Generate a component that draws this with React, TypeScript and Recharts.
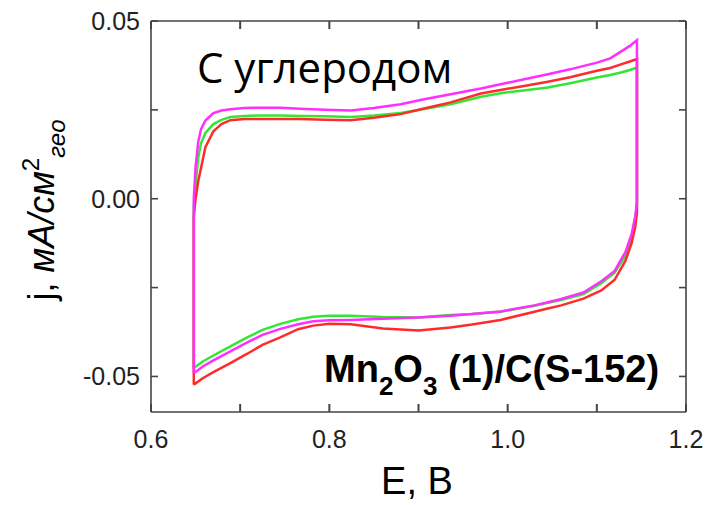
import { LineChart, Line, XAxis, YAxis } from 'recharts'

// potential grid, forward (anodic) sweep left -> right
const topE = [0.648, 0.648, 0.65, 0.653, 0.656, 0.661, 0.67, 0.679, 0.689, 0.705, 0.72, 0.745, 0.767, 0.795, 0.824, 0.85, 0.88, 0.905, 0.936, 0.97, 0.992, 1.02, 1.045, 1.07, 1.1, 1.115, 1.127, 1.137, 1.145]
// reverse (cathodic) sweep right -> left
const bottomE = [1.145, 1.143, 1.139, 1.132, 1.12, 1.105, 1.085, 1.06, 1.045, 1.03, 0.992, 0.96, 0.936, 0.9, 0.86, 0.824, 0.8, 0.782, 0.765, 0.745, 0.725, 0.708, 0.69, 0.67, 0.658, 0.648]

const greenTop = [-0.0476, -0.002, 0.004, 0.0116, 0.0155, 0.0185, 0.021, 0.0222, 0.023, 0.0233, 0.0234, 0.0234, 0.0233, 0.0232, 0.023, 0.0234, 0.0241, 0.0252, 0.0266, 0.0287, 0.0297, 0.0305, 0.0313, 0.0325, 0.0341, 0.0348, 0.0355, 0.0362, 0.0369]
const greenBottom = [-0.002, -0.006, -0.011, -0.016, -0.0208, -0.0238, -0.0268, -0.0285, -0.0293, -0.0301, -0.0318, -0.0324, -0.0327, -0.0334, -0.0333, -0.0329, -0.0329, -0.0332, -0.0339, -0.0352, -0.0369, -0.039, -0.0414, -0.0441, -0.0458, -0.0476]

const redTop = [-0.0523, -0.005, 0.0, 0.005, 0.0085, 0.0145, 0.019, 0.021, 0.0221, 0.0224, 0.0224, 0.0224, 0.0224, 0.0222, 0.0221, 0.0228, 0.0238, 0.0253, 0.0271, 0.0296, 0.0306, 0.0318, 0.0329, 0.0342, 0.036, 0.0368, 0.0378, 0.0386, 0.0393]
const redBottom = [-0.004, -0.008, -0.0125, -0.0175, -0.0228, -0.0258, -0.0281, -0.03, -0.0309, -0.0318, -0.0341, -0.0354, -0.0362, -0.0371, -0.0365, -0.0353, -0.0352, -0.0357, -0.0367, -0.039, -0.0411, -0.0436, -0.0461, -0.0488, -0.0505, -0.0523]

const magentaTop = [-0.0491, 0.0, 0.009, 0.016, 0.0195, 0.022, 0.0241, 0.0248, 0.0252, 0.0255, 0.0256, 0.0256, 0.0253, 0.025, 0.0248, 0.0255, 0.0266, 0.0279, 0.0294, 0.031, 0.0322, 0.0337, 0.035, 0.0364, 0.0383, 0.0395, 0.0414, 0.043, 0.0446]
const magentaBottom = [-0.001, -0.005, -0.01, -0.015, -0.0203, -0.0232, -0.0264, -0.0282, -0.0291, -0.03, -0.0317, -0.0324, -0.0329, -0.0334, -0.0338, -0.0341, -0.0342, -0.0345, -0.0353, -0.0366, -0.0383, -0.0404, -0.0428, -0.0455, -0.0472, -0.0491]

const xTicks = [0.6, 0.7, 0.8, 0.9, 1.0, 1.1, 1.2]
const xLabelled = [0.6, 0.8, 1.0, 1.2]
const yTicks = [-0.05, 0, 0.05]
const yMinorTicks = [-0.05, -0.025, 0, 0.025, 0.05]

const loop = (top: number[], bottom: number[]) => [
  ...topE.map((x, i) => ({ x, y: top[i] })),
  ...bottomE.map((x, i) => ({ x, y: bottom[i] })),
]

const series = [
  { name: 'green', color: '#33e633', data: loop(greenTop, greenBottom) },
  { name: 'red', color: '#ff2b2b', data: loop(redTop, redBottom) },
  { name: 'magenta', color: '#ff2eff', data: loop(magentaTop, magentaBottom) },
]

const FONT = '"Liberation Sans", Arial, sans-serif'
const FRAME = '#444'
const PLOT_TOP = 21

// x tick: inward marks on the bottom and top frame, label only on the major values
const XTick = (props: any) => {
  const v = Number(props.payload.value)
  const bottom = props.y - 8
  return (
    <g>
      <line x1={props.x} x2={props.x} y1={bottom} y2={bottom - 8} stroke={FRAME} strokeWidth={2} />
      <line x1={props.x} x2={props.x} y1={PLOT_TOP} y2={PLOT_TOP + 8} stroke={FRAME} strokeWidth={2} />
      {xLabelled.some((t) => Math.abs(t - v) < 1e-6) && (
        <text x={props.x} y={props.y + 28} textAnchor="middle" fontSize={25} fontFamily={FONT} fill="#222">
          {v.toFixed(1)}
        </text>
      )}
    </g>
  )
}

const YTick = (props: any) => (
  <text x={props.x - 3} y={props.y + 9} textAnchor="end" fontSize={25} fontFamily={FONT} fill="#222">
    {Number(props.payload.value).toFixed(2)}
  </text>
)

const NoLabel = () => <g />

export default function App() {
  const domX: [number, number] = [0.6, 1.2]
  const domY: [number, number] = [-0.06, 0.05]
  const frameLine = { stroke: FRAME, strokeWidth: 1.6 }
  return (
    <div style={{ position: 'absolute', left: 0, top: 0, width: 720, height: 505, background: '#fff' }}>
      <LineChart width={720} height={505} margin={{ top: PLOT_TOP, right: 34, left: 0, bottom: 0 }}>
        <XAxis xAxisId="main" dataKey="x" type="number" domain={domX} allowDataOverflow ticks={xTicks}
          interval={0} height={93} axisLine={false} tickLine={false} tick={XTick} />
        <XAxis xAxisId="bottomFrame" type="number" domain={domX} allowDataOverflow orientation="bottom" mirror
          ticks={xTicks} interval={0} tick={NoLabel} tickSize={8} tickLine={frameLine} axisLine={frameLine} />
        <XAxis xAxisId="topFrame" type="number" domain={domX} allowDataOverflow orientation="top" mirror
          ticks={xTicks} interval={0} tick={NoLabel} tickSize={8} tickLine={frameLine} axisLine={frameLine} />
        <YAxis yAxisId="main" type="number" domain={domY} allowDataOverflow ticks={yTicks}
          interval={0} width={151} axisLine={false} tickLine={false} tick={YTick} />
        <YAxis yAxisId="leftTicks" type="number" domain={domY} allowDataOverflow ticks={yMinorTicks}
          interval={0} orientation="left" mirror tick={NoLabel} tickSize={7} axisLine={frameLine} tickLine={frameLine} />
        <YAxis yAxisId="rightTicks" type="number" domain={domY} allowDataOverflow ticks={yMinorTicks}
          interval={0} orientation="right" mirror tick={NoLabel} tickSize={7} axisLine={frameLine} tickLine={frameLine} />
        {series.map((s) => (
          <Line key={s.name} xAxisId="main" yAxisId="main" data={s.data} dataKey="y" type="linear"
            stroke={s.color} strokeWidth={2.5} dot={false} isAnimationActive={false} />
        ))}
        <text x={197} y={83} fontSize={42} fontFamily='"Open Sans", sans-serif' fill="#000">С углеродом</text>
        <text x={324} y={382} fontSize={38} fontWeight="bold" fontFamily={FONT} fill="#000">
          Mn<tspan fontSize={26} dy={13}>2</tspan><tspan dy={-13}>O</tspan><tspan fontSize={26} dy={13}>3</tspan>
          <tspan dy={-13}> (1)/C(S-152)</tspan>
        </text>
        <text x={417} y={494} textAnchor="middle" fontSize={38} fontFamily={FONT} fill="#000">E, B</text>
        <text transform="translate(54,210) rotate(-90)" textAnchor="middle" fontSize={36} fontFamily={FONT} fill="#000">
          j, <tspan fontStyle="italic">мA/см</tspan><tspan fontSize={24} dy={-15}>2</tspan>
          <tspan fontSize={24} fontStyle="italic" dy={26}>гео</tspan>
        </text>
      </LineChart>
    </div>
  )
}
